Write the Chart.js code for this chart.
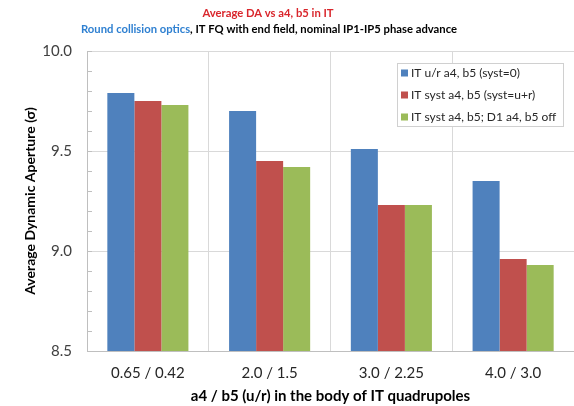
<!DOCTYPE html>
<html>
<head>
<meta charset="utf-8">
<script src="https://cdn.jsdelivr.net/npm/chart.js@4/dist/chart.umd.min.js"></script>
<style>
  html, body { margin: 0; padding: 0; background: #fff; }
  #wrap { width: 574px; height: 406px; }
</style>
</head>
<body>
<div id="wrap"><canvas id="grafico" width="574" height="406"></canvas></div>
<script>
// dados
const categorias = ['0.65 / 0.42', '2.0 / 1.5', '3.0 / 2.25', '4.0 / 3.0'];
const nomesSeries = ['IT u/r a4, b5 (syst=0)', 'IT syst a4, b5 (syst=u+r)', 'IT syst a4, b5; D1 a4, b5 off'];
const daUR = [9.79, 9.70, 9.51, 9.35];
const daSyst = [9.75, 9.45, 9.23, 8.96];
const daSystD1 = [9.73, 9.42, 9.23, 8.93];
const cores = ['#4f81bd', '#c0504d', '#9bbb59'];
// marcas do eixo y (maiores com rotulo, menores so traco)
const ticksY = [8.5, 8.6, 8.7, 8.8, 8.9, 9.0, 9.1, 9.2, 9.3, 9.4, 9.5, 9.6, 9.7, 9.8, 9.9, 10.0];
const rotulosY = ['8.5', '9.0', '9.5', '10.0'];

const fonte = 'Lato, "DejaVu Sans", sans-serif';

function rotuloDe(v) {
    const s = Number(v).toFixed(1);
    return rotulosY.includes(s) ? s : '';
}

// ajusta o tamanho da fonte para caber numa largura
function ajustaFonte(c, texto, largura, inicio) {
    let tam = inicio;
    c.font = 'bold ' + tam + 'px ' + fonte;
    while (c.measureText(texto).width > largura && tam > 8) {
        tam -= 0.25;
        c.font = 'bold ' + tam + 'px ' + fonte;
    }
}

// titulo com partes coloridas
const pluginTitulo = {
    id: 'titulo',
    afterDraw(chart) {
        const c = chart.ctx;
        c.save();
        c.textBaseline = 'middle';
        c.textAlign = 'left';
        const t1 = 'Average DA vs a4, b5 in IT';
        ajustaFonte(c, t1, 133, 14);
        let w = c.measureText(t1).width;
        c.fillStyle = '#d9262c';
        c.fillText(t1, 268 - w / 2, 13);

        const pA = 'Round collision optics';
        const pB = ', IT FQ with end field, nominal IP1-IP5 phase advance';
        ajustaFonte(c, pA + pB, 382, 14);
        const wA = c.measureText(pA).width;
        const wT = c.measureText(pA + pB).width;
        const x0 = 269 - wT / 2;
        c.fillStyle = '#2f80d1';
        c.fillText(pA, x0, 29);
        c.fillStyle = '#000';
        c.fillText(pB, x0 + wA, 29);
        c.restore();
    }
};

// tracinhos do eixo y para dentro da area (estilo Excel)
const pluginTracos = {
    id: 'tracosInternos',
    beforeDatasetsDraw(chart) {
        const escala = chart.scales.y;
        const c = chart.ctx;
        c.save();
        c.strokeStyle = '#bfbfbf';
        c.lineWidth = 1;
        c.beginPath();
        ticksY.forEach(v => {
            const py = Math.round(escala.getPixelForValue(v)) + 0.5;
            c.moveTo(escala.right, py);
            c.lineTo(escala.right + 5, py);
        });
        c.stroke();
        c.restore();
    }
};

// legenda dentro da area do grafico
const pluginLegenda = {
    id: 'legendaInterna',
    afterDraw(chart) {
        const c = chart.ctx;
        c.save();
        c.fillStyle = '#fff';
        c.fillRect(397, 63, 166, 63);
        c.strokeStyle = '#d0d0d0';
        c.lineWidth = 1;
        c.strokeRect(397.5, 63.5, 166, 63);
        c.font = '12px ' + fonte;
        c.textBaseline = 'middle';
        c.textAlign = 'left';
        const ys = [73, 95, 117];
        chart.data.datasets.forEach((ds, i) => {
            c.fillStyle = ds.backgroundColor;
            c.fillRect(401, ys[i] - 3.5, 7, 7);
            c.fillStyle = '#262626';
            c.fillText(ds.label, 411, ys[i]);
        });
        c.restore();
    }
};

new Chart(document.getElementById('grafico').getContext('2d'), {
    type: 'bar',
    data: {
        labels: categorias,
        datasets: [
            { label: nomesSeries[0], data: daUR, backgroundColor: cores[0] },
            { label: nomesSeries[1], data: daSyst, backgroundColor: cores[1] },
            { label: nomesSeries[2], data: daSystD1, backgroundColor: cores[2] }
        ]
    },
    options: {
        responsive: false,
        animation: false,
        devicePixelRatio: 1,
        categoryPercentage: 0.666,
        barPercentage: 1,
        layout: { padding: { top: 51, right: 0, bottom: 0, left: 0 } },
        plugins: {
            legend: { display: false },
            tooltip: { enabled: false }
        },
        scales: {
            x: {
                grid: { color: '#d9d9d9', offset: true, drawTicks: false },
                border: { color: '#bfbfbf' },
                ticks: { color: '#262626', font: { family: fonte, size: 15 }, padding: 13, maxRotation: 0 },
                title: {
                    display: true,
                    text: 'a4 / b5 (u/r) in the body of IT quadrupoles',
                    color: '#000',
                    font: { family: fonte, size: 15, weight: 'bold', lineHeight: 1.2 },
                    padding: { top: 0, bottom: 1 }
                },
                afterFit(scale) { scale.height = 55; }
            },
            y: {
                min: 8.5,
                max: 10,
                afterBuildTicks(scale) {
                    scale.ticks = ticksY.map(v => ({ value: v }));
                },
                grid: {
                    color: (ctx) => (ctx.tick && rotuloDe(ctx.tick.value) !== '') ? '#d9d9d9' : 'rgba(0,0,0,0)',
                    drawTicks: false
                },
                border: { color: '#bfbfbf' },
                ticks: {
                    autoSkip: false,
                    color: '#404040',
                    padding: 15,
                    font: { family: fonte, size: 15 },
                    callback: (v) => rotuloDe(v)
                },
                title: {
                    display: true,
                    text: 'Average Dynamic Aperture (σ)',
                    color: '#000',
                    font: { family: fonte, size: 14, weight: 'bold', lineHeight: 1.2 },
                    padding: { top: 22, bottom: 0 }
                },
                afterFit(scale) { scale.width = 87; }
            }
        }
    },
    plugins: [pluginTitulo, pluginTracos, pluginLegenda]
});
</script>
</body>
</html>
